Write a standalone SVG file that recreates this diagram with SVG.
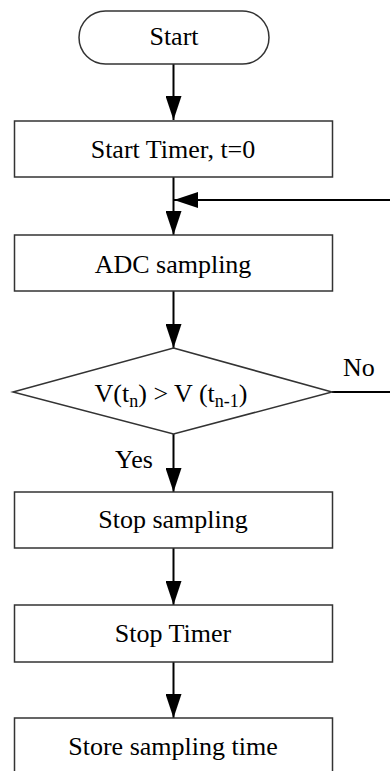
<svg xmlns="http://www.w3.org/2000/svg" width="390" height="771" viewBox="0 0 390 771">
  <style>
    .shape { fill: #ffffff; stroke: #333333; stroke-width: 1.5; }
    .link { fill: none; stroke: #000000; stroke-width: 2; }
    .label { font-family: "Liberation Serif", "Times New Roman", serif; font-size: 26px; fill: #000000; text-anchor: middle; }
    .side { font-family: "Liberation Serif", "Times New Roman", serif; font-size: 26px; fill: #000000; }
    .sub { font-size: 18px; }
  </style>
  <defs>
    <marker id="arrow" markerUnits="userSpaceOnUse" markerWidth="24" markerHeight="16" refX="24" refY="8" orient="auto">
      <path d="M0,0 L24,8 L0,16 Z" fill="#000000"/>
    </marker>
  </defs>

  <rect x="0" y="0" width="390" height="771" fill="#ffffff"/>

  <!-- connectors -->
  <g id="connectors">
    <line class="link" x1="173.5" y1="64" x2="173.5" y2="120" marker-end="url(#arrow)"/>
    <line class="link" x1="173.5" y1="177" x2="173.5" y2="235" marker-end="url(#arrow)"/>
    <line class="link" x1="390" y1="200" x2="174" y2="200" marker-end="url(#arrow)"/>
    <line class="link" x1="173.5" y1="291" x2="173.5" y2="348" marker-end="url(#arrow)"/>
    <line class="link" x1="332" y1="392" x2="390" y2="392"/>
    <line class="link" x1="173.5" y1="434" x2="173.5" y2="492" marker-end="url(#arrow)"/>
    <line class="link" x1="173.5" y1="548" x2="173.5" y2="605" marker-end="url(#arrow)"/>
    <line class="link" x1="173.5" y1="662" x2="173.5" y2="718" marker-end="url(#arrow)"/>
    <text class="side" x="343" y="376">No</text>
    <text class="side" x="115" y="468">Yes</text>
  </g>

  <!-- nodes -->
  <g id="start">
    <rect class="shape" x="79" y="11" width="190" height="53" rx="26.5" ry="26.5"/>
    <text class="label" x="174" y="45">Start</text>
  </g>
  <g id="start-timer">
    <rect class="shape" x="14.5" y="121" width="318" height="56"/>
    <text class="label" x="173" y="158">Start Timer, t=0</text>
  </g>
  <g id="adc-sampling">
    <rect class="shape" x="14.5" y="235" width="318" height="56"/>
    <text class="label" x="173" y="273">ADC sampling</text>
  </g>
  <g id="compare">
    <polygon class="shape" points="173.5,348 332,392 173.5,434 13,392"/>
    <text class="label" x="171" y="402">V(t<tspan class="sub" dy="5">n</tspan><tspan dy="-5">) &gt; V (t</tspan><tspan class="sub" dy="5">n-1</tspan><tspan dy="-5">)</tspan></text>
  </g>
  <g id="stop-sampling">
    <rect class="shape" x="14.5" y="492" width="318" height="56"/>
    <text class="label" x="173" y="528">Stop sampling</text>
  </g>
  <g id="stop-timer">
    <rect class="shape" x="14.5" y="605" width="318" height="57"/>
    <text class="label" x="173" y="642">Stop Timer</text>
  </g>
  <g id="store-time">
    <rect class="shape" x="14.5" y="718" width="318" height="60"/>
    <text class="label" x="173" y="755">Store sampling time</text>
  </g>
</svg>
